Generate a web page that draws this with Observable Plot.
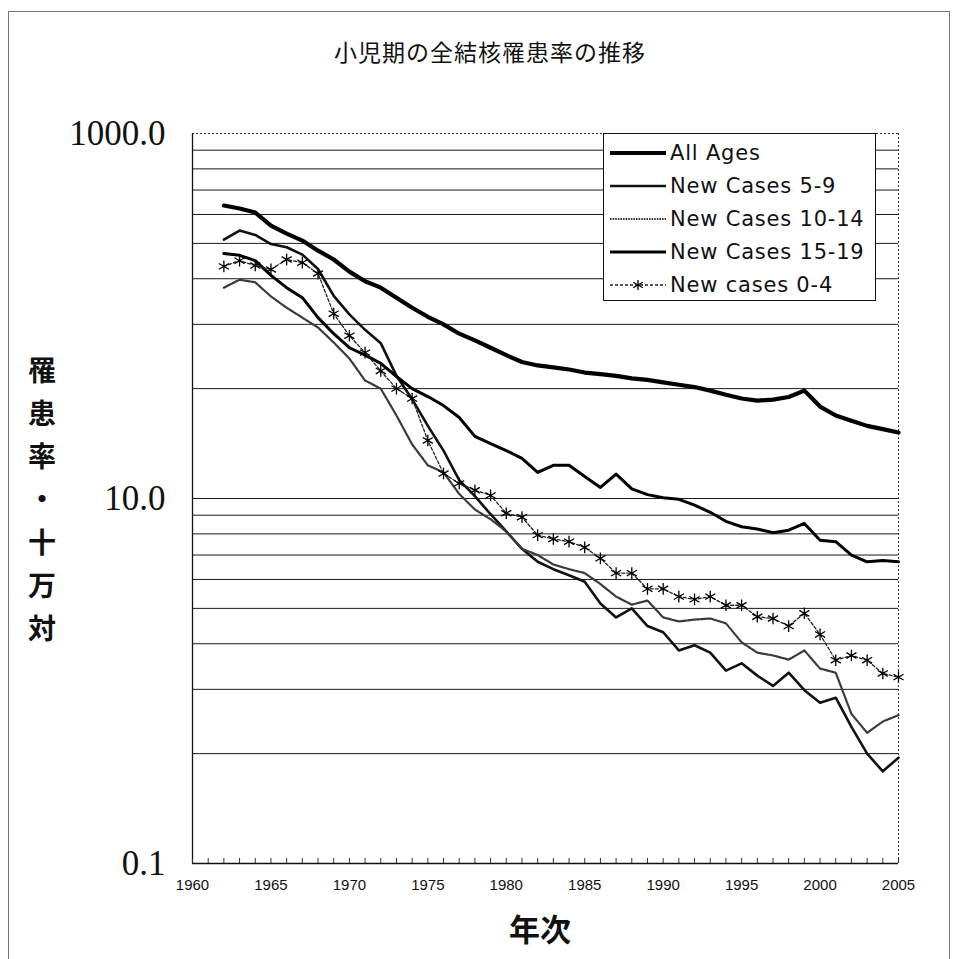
<!DOCTYPE html>
<html><head><meta charset="utf-8">
<script src="https://cdn.jsdelivr.net/npm/d3@7"></script>
<script src="https://cdn.jsdelivr.net/npm/@observablehq/plot@0.6"></script>
<style>
body{margin:0;background:#fff;}
#wrap{position:relative;width:956px;height:959px;overflow:hidden;background:#fff;}
#frame{position:absolute;left:8px;top:11px;width:942px;height:980px;border:1px solid #777;box-sizing:border-box;}
#title{position:absolute;left:0;width:980px;top:34px;text-align:center;font-family:"Noto Sans CJK JP",sans-serif;font-size:23px;letter-spacing:1px;color:#111;}
#ylab{position:absolute;left:22px;top:356px;writing-mode:vertical-rl;font-family:"Noto Sans CJK JP",sans-serif;font-weight:700;font-size:28px;letter-spacing:15px;color:#111;}
#xlab{position:absolute;left:490px;width:100px;top:905px;text-align:center;font-family:"Noto Sans CJK JP",sans-serif;font-weight:700;font-size:31px;color:#111;}
#chart{position:absolute;left:0;top:0;}
#legend{position:absolute;left:603px;top:133px;width:273px;height:168px;border:1.5px solid #111;background:#fff;box-sizing:border-box;}
.row{position:absolute;left:0;height:30px;width:270px;}
.row svg{position:absolute;left:6px;top:10px;}
.row span{position:absolute;left:66px;top:0;font-family:"DejaVu Sans",sans-serif;font-size:21px;letter-spacing:0.8px;line-height:30px;color:#111;white-space:nowrap;}
</style></head>
<body>
<div id="wrap">
  <div id="frame"></div>
  <div id="chart"></div>
  <div id="title">小児期の全結核罹患率の推移</div>
  <div id="ylab">罹患率・十万対</div>
  <div id="xlab">年次</div>
  <div id="legend"></div>
</div>
<script>
const years = [1962,1963,1964,1965,1966,1967,1968,1969,1970,1971,1972,1973,1974,1975,1976,1977,1978,1979,1980,1981,1982,1983,1984,1985,1986,1987,1988,1989,1990,1991,1992,1993,1994,1995,1996,1997,1998,1999,2000,2001,2002,2003,2004,2005];
const allAges = [403,388,369,313,283,259,228,204,175,155,143,126,111,99,90,80,73.5,67,61,56,53.6,52.3,50.9,49,48,47,45.5,44.7,43.3,42,40.8,39,37,35.3,34.4,34.8,36,39,31.9,28.5,26.7,25,24,23];
const cases5to9 = [262,294,278,248,238,217,181,129,102,84,71,47,35,25,18.3,12.6,10.3,8.2,6.6,5.3,4.5,4.1,3.8,3.5,2.66,2.23,2.5,2.0,1.85,1.47,1.57,1.43,1.14,1.25,1.07,0.94,1.11,0.89,0.76,0.81,0.56,0.40,0.32,0.38];
const cases10to14 = [143,158,153,128,111,98,86.5,71.6,58.5,44.3,40,28.5,19.8,15.2,13.9,10.6,8.7,7.7,6.6,5.3,4.9,4.35,4.1,3.9,3.4,2.9,2.62,2.76,2.23,2.12,2.17,2.2,2.07,1.63,1.43,1.38,1.31,1.47,1.17,1.11,0.66,0.52,0.60,0.65];
const cases15to19 = [220,215,201,167,143,126,98,80,67,61,55,46.6,40,36.2,32.3,27.8,21.9,20,18.3,16.6,13.9,15.2,15.2,13.2,11.5,13.6,11.3,10.5,10.1,9.9,9.2,8.4,7.5,7.0,6.8,6.5,6.7,7.3,5.9,5.8,4.9,4.5,4.57,4.5];
const cases0to4 = [187,201,189,180,204,196,171,103,78,63,50,40,35.3,20.8,13.7,12.1,11.1,10.4,8.3,7.9,6.3,6.0,5.8,5.4,4.7,3.9,3.9,3.2,3.2,2.9,2.8,2.9,2.6,2.6,2.25,2.2,2.0,2.35,1.8,1.3,1.38,1.3,1.1,1.05];

const seriesNames = ["All Ages","New Cases 5-9","New Cases 10-14","New Cases 15-19","New cases 0-4"];
const yTicks = [0.1, 10, 1000];
const xTickLabels = [1960,1965,1970,1975,1980,1985,1990,1995,2000,2005];
const xMinorTicks = [1960,1961,1962,1963,1964,1965,1966,1967,1968,1969,1970,1971,1972,1973,1974,1975,1976,1977,1978,1979,1980,1981,1982,1983,1984,1985,1986,1987,1988,1989,1990,1991,1992,1993,1994,1995,1996,1997,1998,1999,2000,2001,2002,2003,2004,2005];
const gridValues = [0.4,0.9,1.6,2.5,3.6,4.9,6.4,8.1,10,40,90,160,250,360,490,640,810];

const styles = [
  {stroke:"#000", strokeWidth:4.2, dash:null},
  {stroke:"#111", strokeWidth:2.6, dash:null},
  {stroke:"#3a3a3a", strokeWidth:2.2, dash:"1.6 1"},
  {stroke:"#000", strokeWidth:3, dash:null},
  {stroke:"#222", strokeWidth:1.3, dash:"3 2"}
];
const seriesValues = [allAges, cases5to9, cases10to14, cases15to19, cases0to4];
const rows = seriesValues.map(vals => years.map((y,i) => ({year:y, value:vals[i]})));

const marks = [
  Plot.ruleY(gridValues, {stroke:"#1a1a1a", strokeWidth:1}),
  Plot.ruleY([1000], {stroke:"#333", strokeDasharray:"2 2"}),
  Plot.ruleX([2005], {stroke:"#333", strokeDasharray:"2 2"}),
  Plot.ruleX([1960], {stroke:"#111", strokeWidth:1.3}),
  Plot.ruleY([0.1], {stroke:"#111", strokeWidth:1.3}),
];
rows.forEach((r, i) => {
  const s = styles[i];
  marks.push(Plot.line(r, {x:"year", y:"value", stroke:s.stroke, strokeWidth:s.strokeWidth, strokeDasharray:s.dash, curve:"linear"}));
});
marks.push(Plot.dot(rows[4], {x:"year", y:"value", symbol:"asterisk", r:5.5, stroke:"#000", strokeWidth:1.3}));
marks.push(Plot.axisY(yTicks, {anchor:"left", tickSize:0, tickPadding:27, tickFormat:d => d.toFixed(1), fontSize:35, fontFamily:"Liberation Serif, serif", fill:"#111", label:null}));
marks.push(Plot.axisX(xTickLabels, {anchor:"bottom", tickSize:0, tickPadding:16, tickFormat:d => String(d), fontSize:15, fontFamily:"Liberation Sans, sans-serif", fill:"#111", label:null}));
marks.push(Plot.axisX(xMinorTicks, {anchor:"bottom", tickSize:5, dy:-5, tickFormat:() => "", label:null, stroke:"#333"}));

const chart = Plot.plot({
  width:956, height:959,
  marginTop:133, marginBottom:96, marginLeft:192, marginRight:58,
  x:{domain:[1960,2005], axis:null},
  y:{type:"log", domain:[0.1,1000], axis:null},
  style:{background:"transparent"},
  marks
});
document.getElementById("chart").appendChild(chart);

// legend
const legend = document.getElementById("legend");
const rowTops = [4, 37, 70, 103, 136];
seriesNames.forEach((name, i) => {
  const s = styles[i];
  const div = document.createElement("div");
  div.className = "row";
  div.style.top = rowTops[i] + "px";
  let sym = "";
  if (i === 4) sym = '<g transform="translate(28,5)" stroke="#000" stroke-width="1.3"><line x1="0" y1="-5.5" x2="0" y2="5.5"/><line x1="-4.8" y1="-2.75" x2="4.8" y2="2.75"/><line x1="-4.8" y1="2.75" x2="4.8" y2="-2.75"/></g>';
  div.innerHTML = `<svg width="56" height="10"><line x1="0" y1="5" x2="56" y2="5" stroke="${s.stroke}" stroke-width="${s.strokeWidth}" ${s.dash ? `stroke-dasharray="${s.dash}"` : ""}/>${sym}</svg><span>${name}</span>`;
  legend.appendChild(div);
});
</script>
</body></html>
